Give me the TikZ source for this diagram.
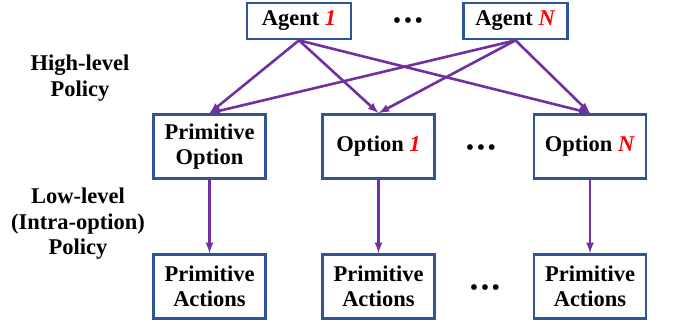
\documentclass[tikz,border=0pt]{standalone}
\usepackage{fontspec}
\setmainfont{Liberation Serif}
\usepackage{xcolor}
\definecolor{boxblue}{HTML}{2F5597}
\definecolor{arrowpurple}{HTML}{7030A0}

\begin{document}
\begin{tikzpicture}[x=1pt,y=-1pt,
	box/.style={draw=boxblue,line width=2.7pt,fill=white,align=center,
		font=\fontsize{22.5}{25.5}\selectfont\bfseries,inner sep=0pt},
	agentbox/.style={box,minimum width=104pt,minimum height=36pt},
	optbox/.style={box,minimum width=112pt,minimum height=64pt},
	link/.style={->,>=latex,draw=arrowpurple,line width=2.6pt},
	lbl/.style={align=center,font=\fontsize{22.5}{25.5}\selectfont\bfseries},
	dots/.style={font=\fontsize{24}{25}\selectfont}]

\useasboundingbox (0,0) rectangle (680,328);

\newcommand{\red}[1]{\textcolor{red}{\textit{#1}}}
\newcommand{\threedots}{\textbullet\hspace{2.5pt}\textbullet\hspace{2.5pt}\textbullet}

% top row
\node[agentbox] (A1) at (299,21) {Agent \red{1}};
\node[agentbox] (AN) at (515.5,21) {Agent \red{N}};
\node[dots] (d1) at (408,23) {\threedots};

% middle row
\node[optbox] (PO) at (209.5,146.5) {Primitive\\Option};
\node[optbox] (O1) at (378.5,146.5) {Option \red{1}};
\node[optbox] (ON) at (590,146.5) {Option \red{N}};
\node[dots] (d2) at (481,150) {\threedots};

% bottom row
\node[optbox] (PA0) at (209.5,286.5) {Primitive\\Actions};
\node[optbox] (PA1) at (378.5,286.5) {Primitive\\Actions};
\node[optbox] (PAN) at (590,286.5) {Primitive\\Actions};
\node[dots] (d3) at (485,290) {\threedots};

% policies
\node[lbl] (hl) at (80,78) {High-level\\Policy};
\node[lbl] (ll) at (78,224) {Low-level\\(Intra-option)\\Policy};

\draw[link] (A1.south) -- (PO.north);
\draw[link] (A1.south) -- (O1.north);
\draw[link] (A1.south) -- (ON.north);
\draw[link] (AN.south) -- (PO.north);
\draw[link] (AN.south) -- (O1.north);
\draw[link] (AN.south) -- (ON.north);

\draw[link] (PO.south) -- (PA0.north);
\draw[link] (O1.south) -- (PA1.north);
\draw[link] (ON.south) -- (PAN.north);

\end{tikzpicture}
\end{document}
